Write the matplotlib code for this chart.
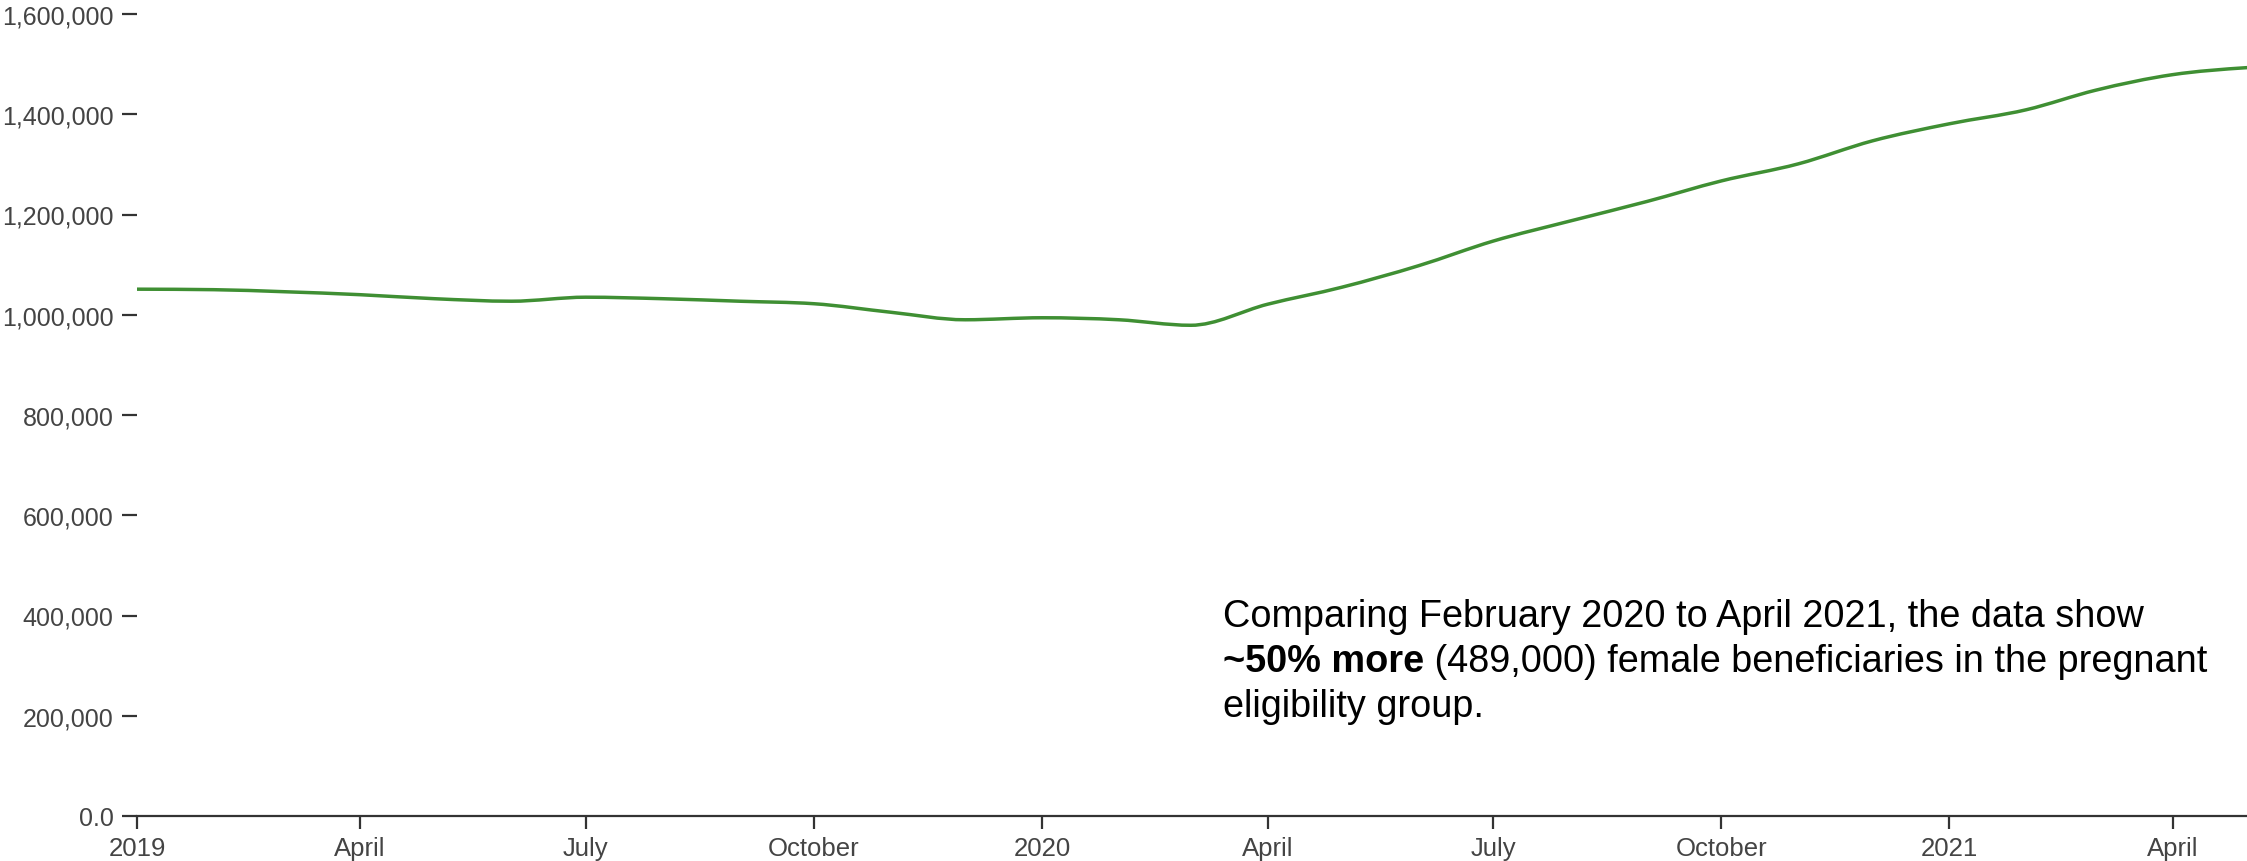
import numpy as np
import pandas as pd
import matplotlib
matplotlib.use("Agg")
import matplotlib.pyplot as plt
import matplotlib.dates as mdates
from matplotlib.path import Path
from matplotlib.patches import PathPatch
from matplotlib.ticker import FuncFormatter

plt.rcParams['font.family'] = ['Liberation Sans', 'DejaVu Sans']

# monthly beneficiaries, Jan 2019 - May 2021
months = pd.date_range('2019-01-01', periods=29, freq='MS')
beneficiaries = [1051000, 1050000, 1046000, 1040000, 1032000, 1027000,
                 1035000, 1032000, 1027000, 1022000, 1005000, 990000,
                 994000, 990000, 979000, 1021000, 1055000, 1098000,
                 1147000, 1187000, 1226000, 1267000, 1301000, 1347000,
                 1381000, 1409000, 1448000, 1479000, 1493000]

yticks = [0, 200000, 400000, 600000, 800000, 1000000, 1200000, 1400000, 1600000]

note_line1 = "Comparing February 2020 to April 2021, the data show"
note_bold = "~50% more"
note_rest = " (489,000) female beneficiaries in the pregnant"
note_line3 = "eligibility group."

line_color = '#3f8f33'
axis_color = '#333333'
label_color = '#444444'


def monotone_path(x, y):
    # cubic bezier path like d3.curveMonotoneX
    x = np.asarray(x, float)
    y = np.asarray(y, float)
    n = len(x)
    h = np.diff(x)
    s = np.diff(y) / h
    t = np.zeros(n)
    for i in range(1, n - 1):
        if s[i - 1] * s[i] <= 0:
            t[i] = 0
        else:
            p = (s[i - 1] * h[i] + s[i] * h[i - 1]) / (h[i - 1] + h[i])
            t[i] = (np.sign(s[i - 1]) + np.sign(s[i])) * min(abs(s[i - 1]), abs(s[i]), 0.5 * abs(p))
    t[0] = (3 * s[0] - t[1]) / 2
    t[-1] = (3 * s[-1] - t[-2]) / 2
    verts = [(x[0], y[0])]
    codes = [Path.MOVETO]
    for i in range(n - 1):
        d = h[i] / 3
        verts += [(x[i] + d, y[i] + d * t[i]),
                  (x[i + 1] - d, y[i + 1] - d * t[i + 1]),
                  (x[i + 1], y[i + 1])]
        codes += [Path.CURVE4] * 3
    return Path(verts, codes)


fig = plt.figure(figsize=(22.47, 8.62), dpi=100)
ax = fig.add_axes([137 / 2247, 45 / 862, 1 - 137 / 2247, (817 - 15) / 862])

xnum = mdates.date2num(months.to_pydatetime())
path = monotone_path(xnum, beneficiaries)
ax.add_patch(PathPatch(path, facecolor='none', edgecolor=line_color, lw=2.5,
                       capstyle='round', joinstyle='round'))

ax.set_xlim(xnum[0], xnum[-1])
ax.set_ylim(0, 1600000)

ax.xaxis.set_major_locator(mdates.MonthLocator(bymonth=[1, 4, 7, 10]))


def month_fmt(v, pos):
    d = mdates.num2date(v)
    return str(d.year) if d.month == 1 else d.strftime('%B')


ax.xaxis.set_major_formatter(FuncFormatter(month_fmt))
ax.set_yticks(yticks)
ax.yaxis.set_major_formatter(FuncFormatter(lambda v, p: '0.0' if v == 0 else f'{int(v):,}'))

for side in ['top', 'right', 'left']:
    ax.spines[side].set_visible(False)
ax.spines['bottom'].set_color(axis_color)
ax.spines['bottom'].set_linewidth(1.6)

ax.tick_params(axis='x', length=9.5, width=1.6, color=axis_color, pad=5,
               labelsize=18.5, labelcolor=label_color)
ax.tick_params(axis='y', length=10.8, width=1.6, color=axis_color, pad=6,
               labelsize=18, labelcolor=label_color)
ax.patch.set_visible(False)

# annotation
tx = 1223 / 2247
fs = 27.3
fig.text(tx, 1 - 627 / 862, note_line1, fontsize=fs, va='baseline', color='black')
b = fig.text(tx, 1 - 672 / 862, note_bold, fontsize=fs, va='baseline',
             fontweight='bold', color='black')
ax.annotate(note_rest, xy=(1, 0), xycoords=b, va='bottom', ha='left',
            fontsize=fs, color='black')
fig.text(tx, 1 - 717 / 862, note_line3, fontsize=fs, va='baseline', color='black')

fig.savefig('out.png', dpi=100)
